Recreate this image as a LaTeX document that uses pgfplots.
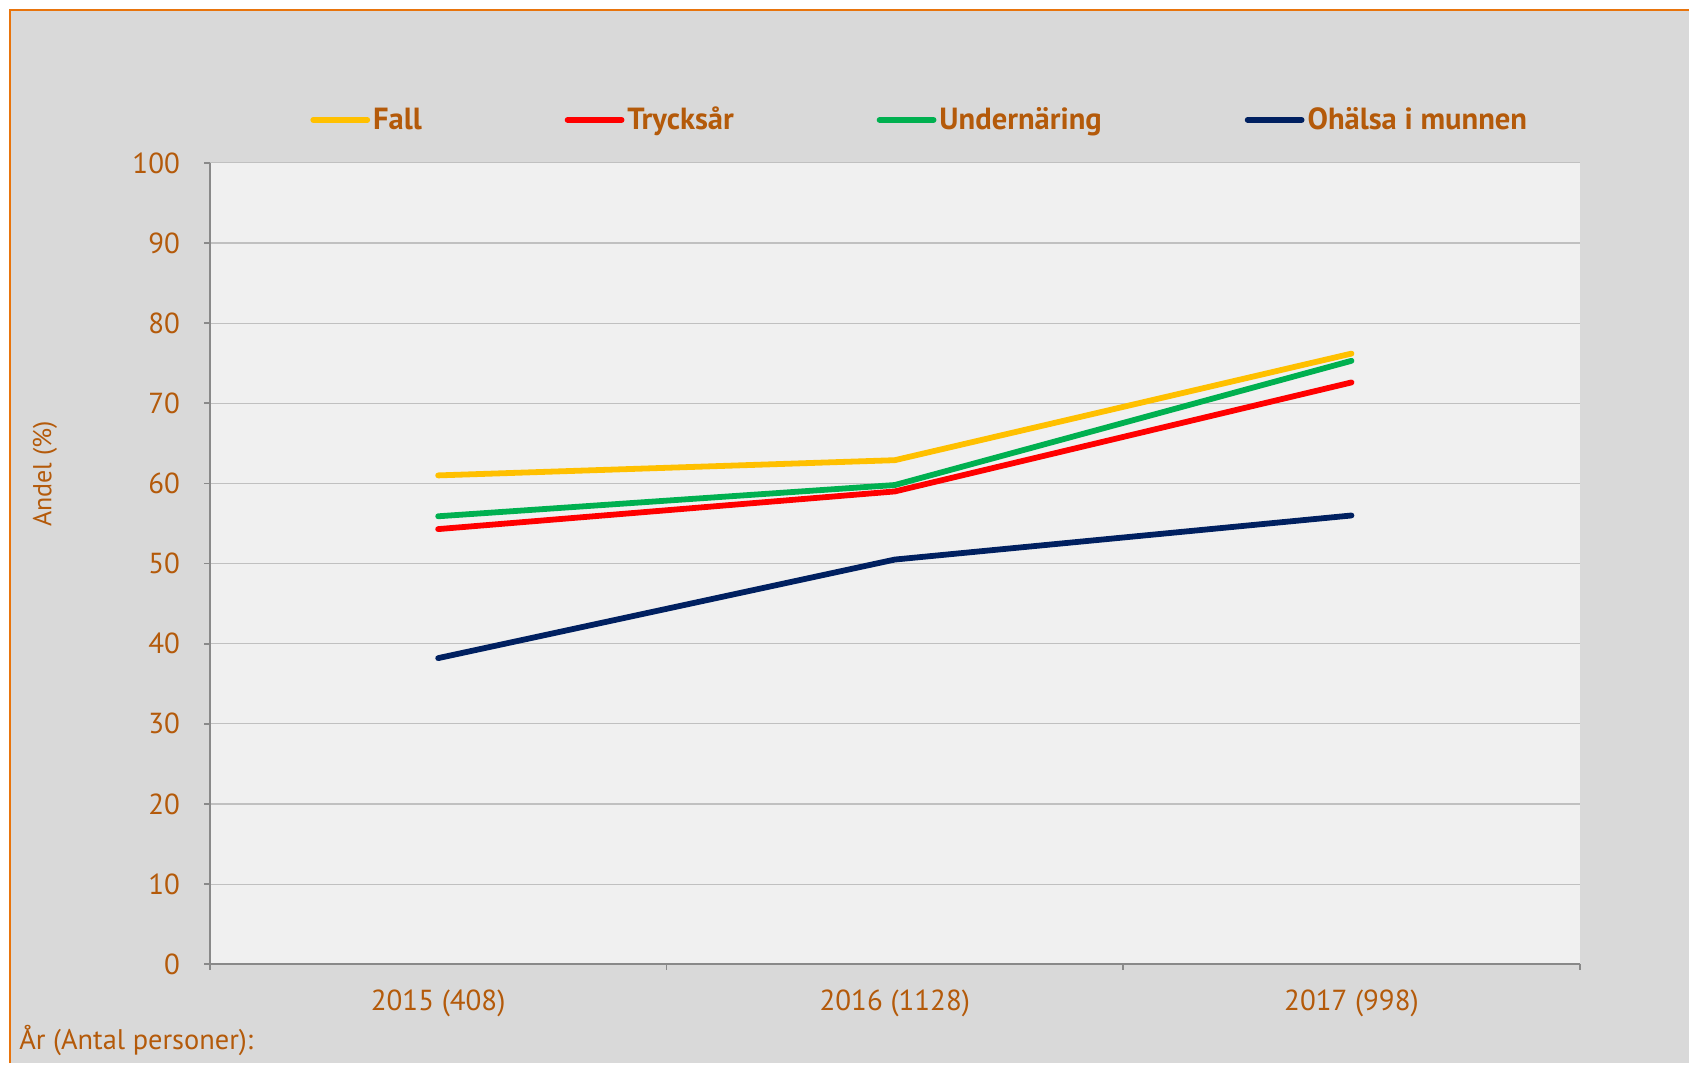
\documentclass[border=0pt]{standalone}
\usepackage{pgfplots}
\pgfplotsset{compat=1.18}
\usepackage{fontspec}
\setmainfont{PT Sans}
\definecolor{cText}{RGB}{180,90,10}
\definecolor{cBack}{RGB}{217,217,217}
\definecolor{cPlot}{RGB}{240,240,240}
\definecolor{cFrame}{RGB}{232,116,12}
\definecolor{cGrid}{RGB}{192,192,192}
\definecolor{cAxis}{RGB}{137,137,137}
\definecolor{cFall}{RGB}{255,192,0}
\definecolor{cTryck}{RGB}{255,0,0}
\definecolor{cUnder}{RGB}{0,176,80}
\definecolor{cMun}{RGB}{0,32,96}

\begin{document}
\begin{tikzpicture}
% outer background and orange frame (only top and left edges are visible)
\fill[white] (-105pt,-49.5pt) rectangle (740pt,482.5pt);
\fill[cBack] (-100pt,-49.5pt) rectangle (740pt,477.5pt);
\draw[cFrame, line width=1.3pt] (-100pt,-49.5pt) -- (-100pt,477.5pt) -- (740pt,477.5pt);

\begin{axis}[
    scale only axis,
    width=685.5pt, height=401pt,
    xmin=-0.5, xmax=2.5,
    ymin=0, ymax=100,
    axis lines*=left,
    axis line style={cAxis, line width=0.8pt},
    axis background/.style={fill=cPlot},
    tick align=outside,
    tick style={cAxis, line width=0.8pt},
    major tick length=2.8pt,
    ytick={0,10,...,100},
    ymajorgrids,
    grid style={cGrid, line width=0.6pt},
    xtick={-0.5,0.5,1.5,2.5},
    xticklabels={},
    extra x ticks={0,1,2},
    extra x tick labels={2015 (408), 2016 (1128), 2017 (998)},
    extra x tick style={major tick length=0pt, tick style={draw=none}, grid=none},
    /pgf/number format/assume math mode=true,
    ticklabel style={font=\fontsize{14.5}{17}\selectfont, text=cText},
    yticklabel style={anchor=east, inner sep=0pt, xshift=-12pt},
    xticklabel style={anchor=north, inner sep=0pt, yshift=-12.5pt},
    xlabel={År (Antal personer):},
    xlabel style={at={(axis description cs:0,0)}, anchor=west, xshift=-95.5pt, yshift=-38pt,
                  font=\fontsize{14.2}{17}\selectfont, text=cText, inner sep=0pt},
    ylabel={Andel (\%)},
    ylabel style={at={(axis description cs:0,0.612)}, anchor=center, yshift=82.5pt,
                  font=\fontsize{13}{15}\selectfont, text=cText, inner sep=0pt},
    every axis plot/.append style={line width=2.9pt, line cap=round, line join=round},
    legend columns=4,
    legend image code/.code={\draw[#1] (0pt,0pt) -- (27pt,0pt);},
    legend style={at={(0.5186,1.0536)}, anchor=center, draw=none, fill=none,
                  font=\bfseries\fontsize{15.3}{18}\selectfont, text=cText,
                  nodes={inner sep=1.5pt},
                  /tikz/every even column/.append style={column sep=70pt}},
]
\addplot[cFall] coordinates {(0,61.0) (1,62.9) (2,76.2)};
\addlegendentry{Fall}
\addplot[cTryck] coordinates {(0,54.3) (1,59.0) (2,72.6)};
\addlegendentry{Trycksår}
\addplot[cUnder] coordinates {(0,55.9) (1,59.8) (2,75.3)};
\addlegendentry{Undernäring}
\addplot[cMun] coordinates {(0,38.2) (1,50.5) (2,56.0)};
\addlegendentry{Ohälsa i munnen}
\end{axis}
\end{tikzpicture}
\end{document}
